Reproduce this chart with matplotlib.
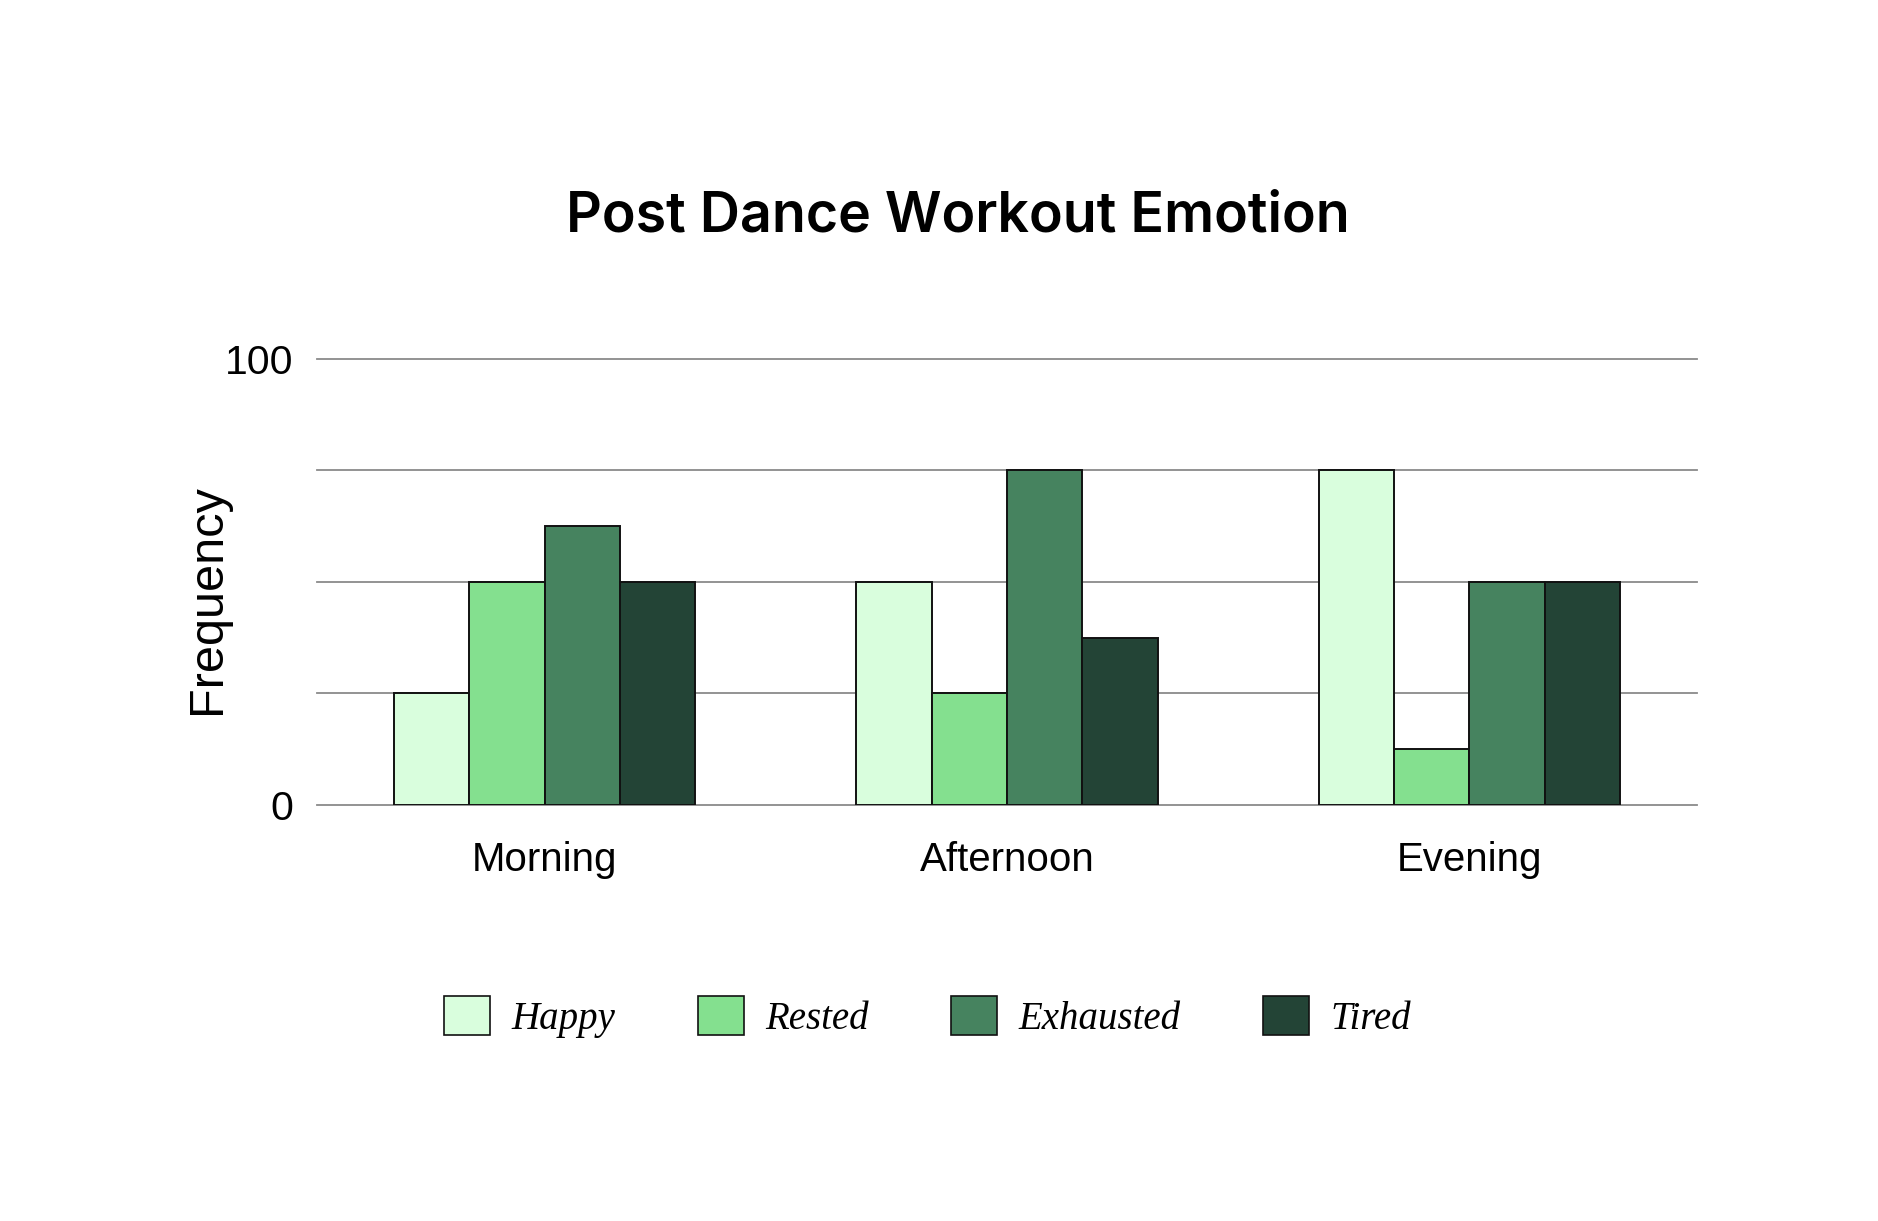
import matplotlib
matplotlib.use("Agg")
import matplotlib.pyplot as plt
from matplotlib.patches import Patch
import numpy as np

categories = ["Morning", "Afternoon", "Evening"]
series_names = ["Happy", "Rested", "Exhausted", "Tired"]
happy = [25, 50, 75]
rested = [50, 25, 12.5]
exhausted = [62.5, 75, 50]
tired = [50, 37.5, 50]
series_values = [happy, rested, exhausted, tired]
colors = ["#d9fedd", "#84e08f", "#46835f", "#234436"]
yticks = [0, 100]
ygrid = [0, 25, 50, 75, 100]

fig = plt.figure(figsize=(18.78, 12.21), dpi=100)
ax = fig.add_axes([0.1688, 0.3407, 0.7348, 0.3653])

x = np.arange(len(categories))
bw = 0.163
for i, (name, vals, c) in enumerate(zip(series_names, series_values, colors)):
    ax.bar(x + (i - 1.5) * bw, vals, width=bw, color=c, edgecolor="#111111",
           linewidth=1.4, label=name, zorder=3)

ax.set_xlim(-0.492, 2.492)
ax.set_ylim(0, 100)
for g in ygrid:
    ax.axhline(g, color="#8a8a8a", linewidth=1.3, zorder=1, clip_on=False)
for s in ax.spines.values():
    s.set_visible(False)
ax.set_yticks(yticks)
ax.set_yticklabels([str(t) for t in yticks], fontsize=29.5, family="Liberation Sans")
ax.tick_params(axis="y", length=0, pad=17)
ax.set_xticks(x)
ax.set_xticklabels(categories, fontsize=29, family="Liberation Sans")
ax.tick_params(axis="x", length=0, pad=26)
ax.set_ylabel("Frequency", fontsize=35, family="Liberation Sans", va="center")
ax.yaxis.set_label_coords(-0.0797, 0.462)

fig.text(0.51, 0.8225, "Post Dance Workout Emotion", ha="center", va="center",
         fontsize=40, family="Inter", fontweight="semibold")

handles = [Patch(facecolor=c, edgecolor="#111111", linewidth=1.2) for c in colors]
fig.legend(handles, series_names, loc="center", bbox_to_anchor=(0.494, 1 - 1017 / 1221),
           ncol=4, frameon=False, handlelength=1.18, handleheight=1.18,
           handletextpad=0.55, columnspacing=2.12,
           prop={"family": "Liberation Serif", "style": "italic", "size": 28})

fig.savefig("out.png", dpi=100, facecolor="white")
